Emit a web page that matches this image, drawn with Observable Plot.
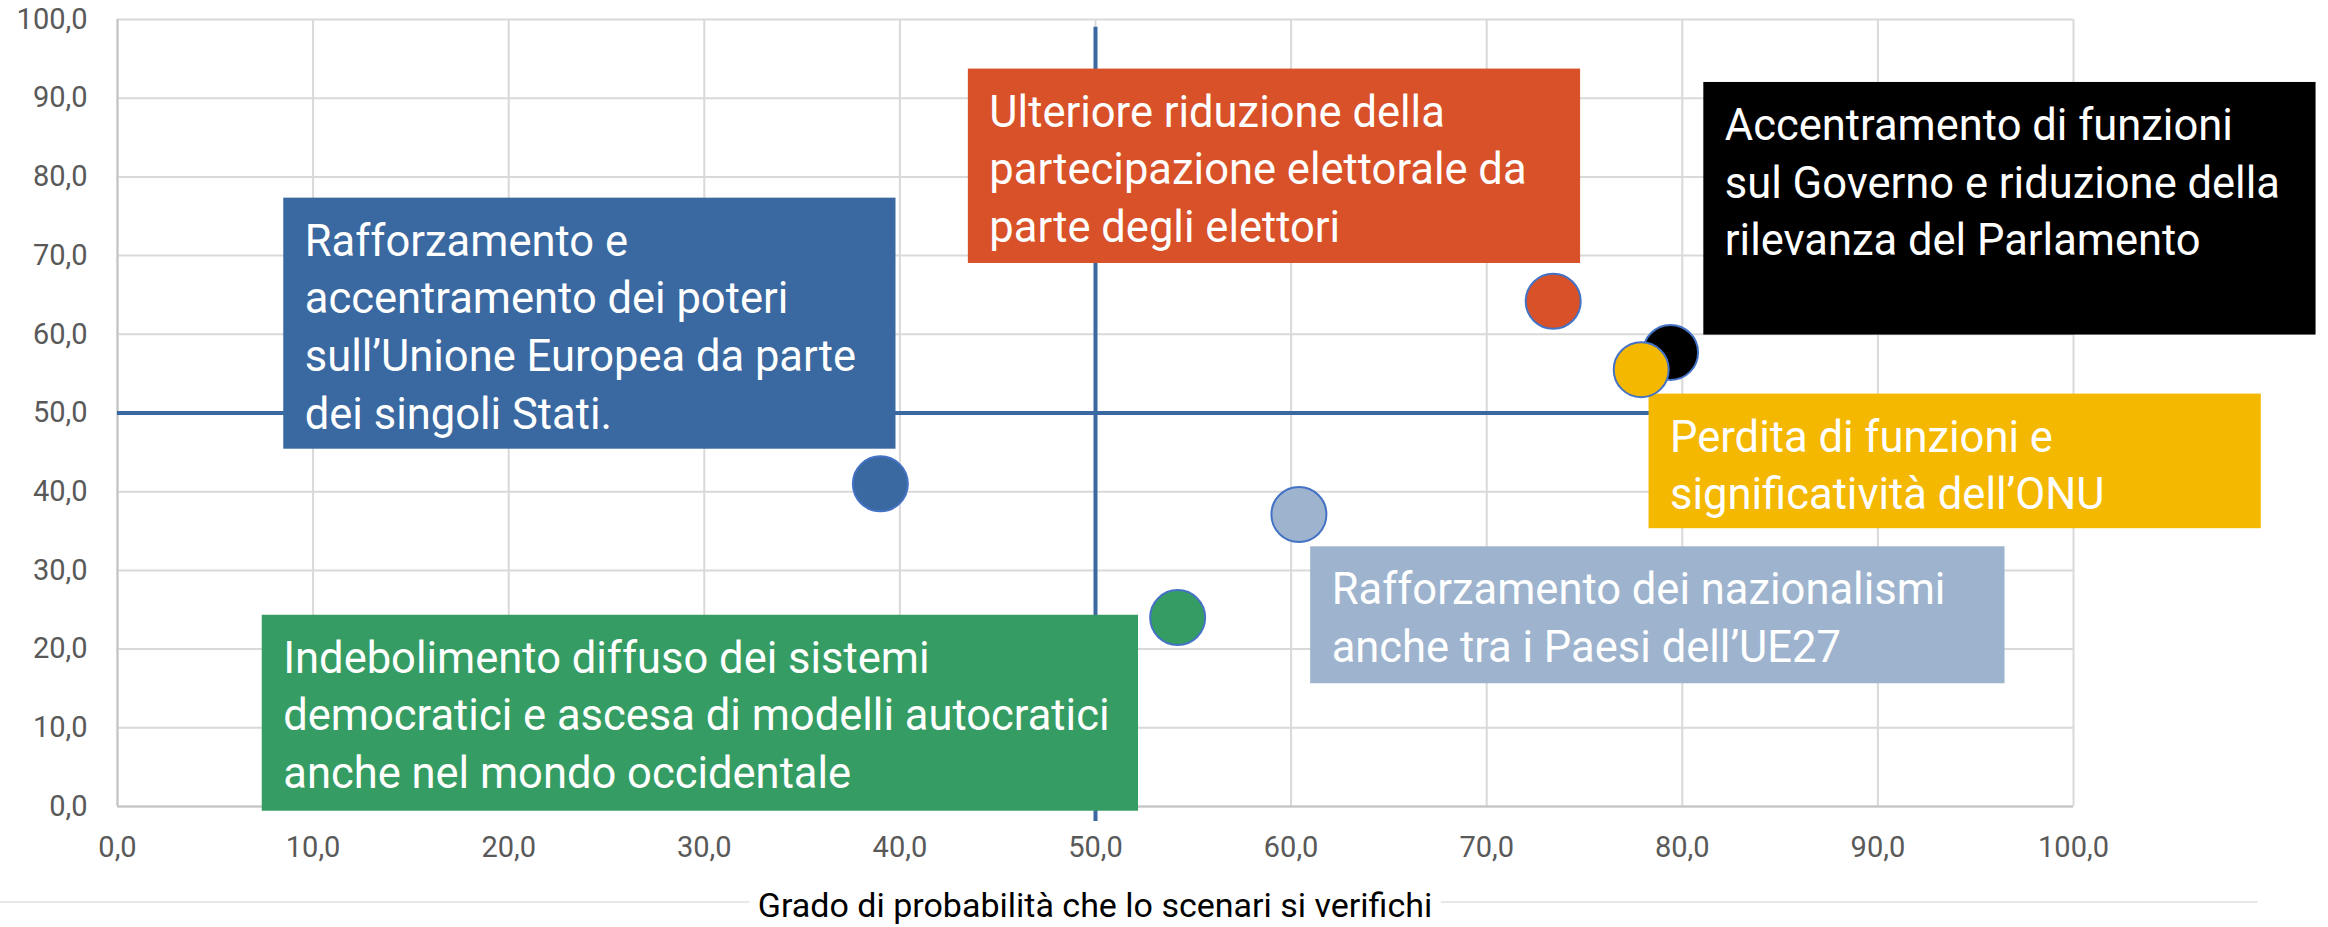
<!DOCTYPE html>
<html>
<head>
<meta charset="utf-8">
<script src="https://cdn.jsdelivr.net/npm/d3@7"></script>
<script src="https://cdn.jsdelivr.net/npm/@observablehq/plot@0.6"></script>
<style>
  html, body { margin: 0; padding: 0; background: #fff; }
  #wrap { position: relative; width: 2328px; height: 927px; overflow: hidden; background: #fff; }
  #foot { position: relative; width: 2328px; height: 47px; }
  #edge { position: absolute; left: 0; top: 21px; width: 2258px; height: 2px; background: #E8E8E8; }
  #xtitle { position: absolute; left: 1095px; top: 5px; transform: translateX(-50%);
            font-family: Roboto, sans-serif; font-size: 34px; line-height: 40px; color: #000;
            background: #fff; white-space: nowrap; padding: 0 8px; }
</style>
</head>
<body>
<div id="wrap">
  <div id="chart"></div>
  <div id="foot"><div id="edge"></div><div id="xtitle"></div></div>
</div>
<script>
// ---- data ----
const scenarioIds = ["ue", "elettori", "governo", "onu", "nazionalismi", "autocrazie"];
const scenarioLabels = [
  "Rafforzamento e\naccentramento dei poteri\nsull’Unione Europea da parte\ndei singoli Stati.",
  "Ulteriore riduzione della\npartecipazione elettorale da\nparte degli elettori",
  "Accentramento di funzioni\nsul Governo e riduzione della\nrilevanza del Parlamento",
  "Perdita di funzioni e\nsignificatività dell’ONU",
  "Rafforzamento dei nazionalismi\nanche tra i Paesi dell’UE27",
  "Indebolimento diffuso dei sistemi\ndemocratici e ascesa di modelli autocratici\nanche nel mondo occidentale"
];
const probability = [39.0, 73.4, 79.4, 77.9, 60.4, 54.2];   // x
const impact      = [41.0, 64.2, 57.7, 55.5, 37.1, 24.0];   // y
const xTicks = [0, 10, 20, 30, 40, 50, 60, 70, 80, 90, 100];
const yTicks = [0, 10, 20, 30, 40, 50, 60, 70, 80, 90, 100];
const xTitle = "Grado di probabilità che lo scenari si verifichi";
const thresholdX = 50;
const thresholdY = 50;

// label boxes (annotation extents in data units)
const boxX1 = [8.5, 43.5, 81.1, 78.3, 61.0, 7.4];
const boxX2 = [39.8, 74.8, 112.4, 109.6, 96.5, 52.2];
const boxYTop = [77.3, 93.7, 92.0, 52.4, 33.0, 24.3];
const boxYBottom = [45.4, 69.0, 59.9, 35.3, 15.6, -0.6];

// ---- styles ----
const colors = {
  ue: "#3A68A0", elettori: "#D85128", governo: "#000000",
  onu: "#F5B800", nazionalismi: "#9EB4CE", autocrazie: "#359D63"
};
const lineBlue = "#3A68A0";

const boxes = scenarioIds.map((id, i) => ({
  id, label: scenarioLabels[i], color: colors[id],
  x1: boxX1[i], x2: boxX2[i], yTop: boxYTop[i], yBottom: boxYBottom[i]
}));
// draw order: black before yellow so yellow overlaps it
const pointOrder = ["ue", "elettori", "governo", "onu", "nazionalismi", "autocrazie"];
const points = pointOrder.map(id => {
  const i = scenarioIds.indexOf(id);
  return { id, x: probability[i], y: impact[i], color: colors[id] };
});

const fmt = d => d.toFixed(1).replace(".", ",");

const chart = Plot.plot({
  width: 2328,
  height: 880,
  marginLeft: 117,
  marginRight: 255,
  marginTop: 19,
  marginBottom: 74,
  style: { fontFamily: "Roboto, sans-serif", background: "transparent", overflow: "visible" },
  x: { domain: [0, 100], label: null },
  y: { domain: [0, 100], label: null },
  color: { type: "identity" },
  marks: [
    Plot.gridX(xTicks, { stroke: "#D9D9D9", strokeOpacity: 1, strokeWidth: 2 }),
    Plot.gridY(yTicks, { stroke: "#D9D9D9", strokeOpacity: 1, strokeWidth: 2 }),
    Plot.ruleX([0], { stroke: "#C4C4C4", strokeWidth: 2 }),
    Plot.ruleY([0], { stroke: "#C4C4C4", strokeWidth: 2 }),
    Plot.axisX(xTicks, { tickSize: 0, tickPadding: 30, fontSize: 29, fill: "#595959", tickFormat: fmt, label: null }),
    Plot.axisY(yTicks, { tickSize: 0, tickPadding: 30, fontSize: 29, fill: "#595959", tickFormat: fmt, label: null }),
    Plot.ruleY([thresholdY], { x1: 0, x2: 100, stroke: lineBlue, strokeWidth: 4 }),
    Plot.ruleX([thresholdX], { y1: -1.9, y2: 99, stroke: lineBlue, strokeWidth: 4 }),
    Plot.rect(boxes, { x1: "x1", x2: "x2", y1: "yBottom", y2: "yTop", fill: "color" }),
    Plot.text(boxes, {
      x: "x1", y: "yTop", text: "label", textAnchor: "start", lineAnchor: "top",
      dx: 21, dy: 16.5, lineHeight: 1.3256, fontSize: 43.5, fill: "white"
    }),
    Plot.dot(points, { x: "x", y: "y", r: 27.5, fill: "color", stroke: "#4472C4", strokeWidth: 2 })
  ]
});
document.getElementById("chart").appendChild(chart);
document.getElementById("xtitle").textContent = xTitle;
</script>
</body>
</html>
